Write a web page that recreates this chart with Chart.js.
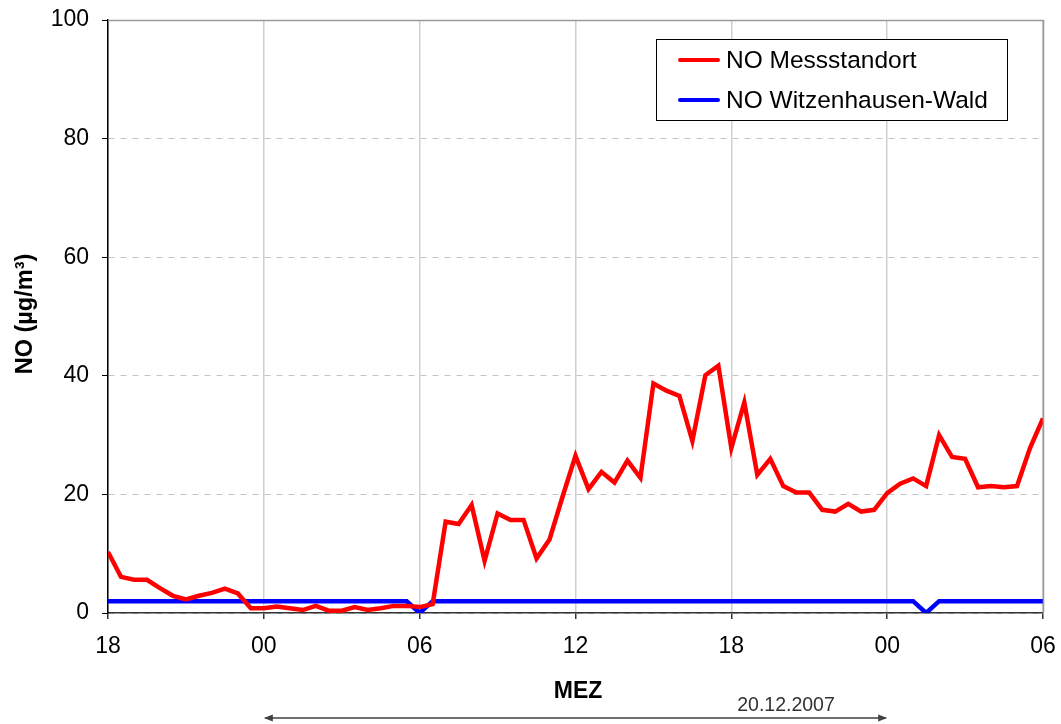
<!DOCTYPE html>
<html>
<head>
<meta charset="utf-8">
<script src="https://cdn.jsdelivr.net/npm/chart.js@4"></script>
<style>
  html, body { margin: 0; padding: 0; background: #fff; }
  #wrap { width: 1061px; height: 724px; }
</style>
</head>
<body>
<div id="wrap"><canvas id="chart" width="1061" height="724"></canvas></div>
<script>
// half-hourly values, 18:00 (19.12.) to 06:00 (21.12.)
const noMessstandort = [
    10.3, 6.1, 5.6, 5.6, 4.2, 2.9, 2.3, 2.9, 3.4, 4.1, 3.3, 0.8,
    0.8, 1.1, 0.8, 0.5, 1.2, 0.4, 0.4, 1.0, 0.5, 0.8, 1.2, 1.2,
    1.0, 1.5, 15.4, 15.0, 18.2, 8.8, 16.8, 15.7, 15.7, 9.2, 12.4, 19.6,
    26.5, 20.9, 23.8, 22.0, 25.7, 22.8, 38.7, 37.5, 36.6, 29.0, 40.1, 41.7,
    27.8, 35.5, 23.3, 26.0, 21.4, 20.3, 20.3, 17.4, 17.1, 18.4, 17.1, 17.4,
    20.2, 21.8, 22.7, 21.4, 30.0, 26.3, 26.0, 21.2, 21.4, 21.2, 21.4, 27.8,
    32.8
];
const noWitzenhausen = [
    2, 2, 2, 2, 2, 2, 2, 2, 2, 2, 2, 2,
    2, 2, 2, 2, 2, 2, 2, 2, 2, 2, 2, 2,
    0, 2, 2, 2, 2, 2, 2, 2, 2, 2, 2, 2,
    2, 2, 2, 2, 2, 2, 2, 2, 2, 2, 2, 2,
    2, 2, 2, 2, 2, 2, 2, 2, 2, 2, 2, 2,
    2, 2, 2, 0, 2, 2, 2, 2, 2, 2, 2, 2,
    2
];
const xTickLabels = ['18', '00', '06', '12', '18', '00', '06'];
const seriesNames = ['NO Messstandort', 'NO Witzenhausen-Wald'];
const dateLabel = '20.12.2007';

const FONT = "'Liberation Sans', Arial, sans-serif";

// hours since 18:00 for each half-hour sample
const toPoints = arr => arr.map((v, i) => ({ x: i * 0.5, y: v }));

// legend box, axis titles and the date arrow
const extras = {
    id: 'extras',
    afterDraw(chart) {
        const ctx = chart.ctx;
        const a = chart.chartArea;
        ctx.save();

        // top and right frame
        ctx.strokeStyle = '#9a9a9a';
        ctx.lineWidth = 1.5;
        ctx.beginPath();
        ctx.moveTo(a.left, a.top + 0.5);
        ctx.lineTo(a.right + 0.5, a.top + 0.5);
        ctx.lineTo(a.right + 0.5, a.bottom);
        ctx.stroke();

        // legend
        const lx = 656, ly = 39, lw = 351, lh = 81;
        ctx.fillStyle = '#fff';
        ctx.fillRect(lx, ly, lw, lh);
        ctx.strokeStyle = '#000';
        ctx.lineWidth = 1;
        ctx.strokeRect(lx + 0.5, ly + 0.5, lw, lh);
        chart.data.datasets.forEach((ds, i) => {
            const y = 60 + i * 40;
            ctx.strokeStyle = ds.borderColor;
            ctx.lineWidth = 4;
            ctx.lineCap = 'round';
            ctx.beginPath();
            ctx.moveTo(680, y);
            ctx.lineTo(718, y);
            ctx.stroke();
            ctx.fillStyle = '#000';
            ctx.font = '24.5px ' + FONT;
            ctx.textAlign = 'left';
            ctx.textBaseline = 'middle';
            ctx.fillText(ds.label, 726, y + 1);
        });

        // y title
        ctx.save();
        ctx.translate(26, 314);
        ctx.rotate(-Math.PI / 2);
        ctx.font = 'bold 23.5px ' + FONT;
        ctx.fillStyle = '#000';
        ctx.textAlign = 'center';
        ctx.textBaseline = 'middle';
        ctx.fillText('NO (µg/m³)', 0, 0);
        ctx.restore();

        // x title
        ctx.font = 'bold 23px ' + FONT;
        ctx.fillStyle = '#000';
        ctx.textAlign = 'center';
        ctx.textBaseline = 'middle';
        ctx.fillText('MEZ', 578, 692);

        // date arrow from 00 to 00
        const xs = chart.scales.x;
        const x1 = xs.getPixelForValue(6), x2 = xs.getPixelForValue(30);
        const ay = 718;
        ctx.strokeStyle = '#404040';
        ctx.fillStyle = '#404040';
        ctx.lineWidth = 1.5;
        ctx.beginPath();
        ctx.moveTo(x1 + 2, ay);
        ctx.lineTo(x2 - 2, ay);
        ctx.stroke();
        ctx.beginPath();
        ctx.moveTo(x1, ay); ctx.lineTo(x1 + 9, ay - 3.5); ctx.lineTo(x1 + 9, ay + 3.5); ctx.closePath();
        ctx.moveTo(x2, ay); ctx.lineTo(x2 - 9, ay - 3.5); ctx.lineTo(x2 - 9, ay + 3.5); ctx.closePath();
        ctx.fill();
        ctx.font = '19.5px ' + FONT;
        ctx.fillStyle = '#333';
        ctx.fillText(dateLabel, 786, 706);

        ctx.restore();
    }
};

new Chart(document.getElementById('chart'), {
    type: 'line',
    data: {
        datasets: [
            {
                label: seriesNames[0],
                data: toPoints(noMessstandort),
                borderColor: '#ff0000',
                borderWidth: 4.5,
                pointRadius: 0,
                tension: 0
            },
            {
                label: seriesNames[1],
                data: toPoints(noWitzenhausen),
                borderColor: '#0000ff',
                borderWidth: 4.5,
                pointRadius: 0,
                tension: 0
            }
        ]
    },
    options: {
        responsive: false,
        animation: false,
        layout: { padding: { top: 20, right: 18, left: 0, bottom: 0 } },
        plugins: {
            legend: { display: false },
            tooltip: { enabled: false }
        },
        scales: {
            x: {
                type: 'linear',
                min: 0,
                max: 36,
                afterFit: s => {
                    s.height = 111;
                    s.paddingLeft = 0;
                    s.paddingRight = 0;
                },
                ticks: {
                    stepSize: 6,
                    color: '#000',
                    padding: 14,
                    maxRotation: 0,
                    font: { family: FONT, size: 23 },
                    callback: v => xTickLabels[v / 6]
                },
                grid: { color: '#cfcfcf', lineWidth: 1.5, tickColor: '#333', tickLength: 6 },
                border: { color: '#333', width: 1.5 }
            },
            y: {
                min: 0,
                max: 100,
                afterFit: s => {
                    s.width = 108;
                    s.paddingTop = 0;
                    s.paddingBottom = 0;
                },
                ticks: {
                    stepSize: 20,
                    color: '#000',
                    padding: 13,
                    font: { family: FONT, size: 23 }
                },
                grid: { color: '#c4c4c4', lineWidth: 1, tickColor: '#000', tickLength: 6 },
                border: { color: '#000', width: 1.5, dash: [6, 6] }
            }
        }
    },
    plugins: [extras]
});
</script>
</body>
</html>
